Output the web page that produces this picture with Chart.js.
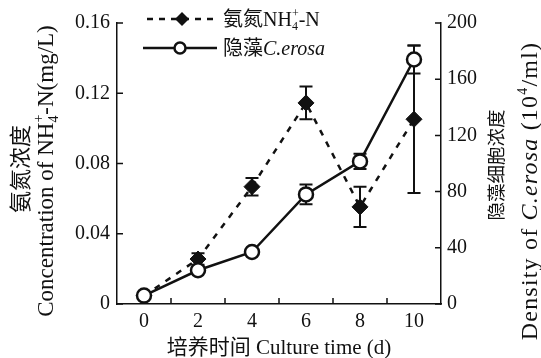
<!DOCTYPE html>
<html><head><meta charset="utf-8">
<script src="https://cdn.jsdelivr.net/npm/chart.js@4"></script>
<style>html,body{margin:0;padding:0;background:#fff}</style>
</head><body>
<canvas id="c" width="541" height="358"></canvas>
<script>
// data
const days = [0, 2, 4, 6, 8, 10];
const nh4 = [0.0046, 0.0256, 0.0668, 0.1145, 0.0553, 0.1052];
const nh4Err = [0, 0.0033, 0.005, 0.0093, 0.0115, 0.042];
const algae = [6, 24, 37, 78, 101.5, 174];
const algaeErr = [0, 2, 1, 7, 5.5, 10];
const xTickMarks = [1, 3, 5, 7, 9];
const leftTicks = [0, 0.04, 0.08, 0.12, 0.16];
const rightTicks = [0, 40, 80, 120, 160, 200];

const FONT = '"Liberation Serif","Noto Sans CJK SC",serif';
const INK = '#111';

function partFont(p, size){
    const s = (p.sub || p.sup) ? Math.round(size*0.6) : size;
    return (p.it ? 'italic ' : '') + s + 'px ' + FONT;
}
function partWidth(ctx, p, size){
    ctx.font = partFont(p, size);
    if (p.t !== undefined) return ctx.measureText(p.t).width;
    return Math.max(p.sub ? ctx.measureText(p.sub).width : 0, p.sup ? ctx.measureText(p.sup).width : 0);
}
// draws a run of text pieces, centred (or left aligned) on x
function drawRich(ctx, parts, x, cy, size, left){
    const ws = parts.map(p=>partWidth(ctx, p, size));
    const total = ws.reduce((a,b)=>a+b, 0);
    let px = left ? x : x - total/2;
    const base = cy + size*0.33;
    ctx.textAlign = 'left'; ctx.textBaseline = 'alphabetic'; ctx.fillStyle = INK;
    parts.forEach((p,i)=>{
        ctx.font = partFont(p, size);
        if (p.t !== undefined) ctx.fillText(p.t, px, base);
        if (p.sub) ctx.fillText(p.sub, px, base + size*0.22);
        if (p.sup) ctx.fillText(p.sup, px, base - size*0.42);
        px += ws[i];
    });
}

function diamond(ctx, x, y, r){
    ctx.beginPath();
    ctx.moveTo(x-r, y); ctx.lineTo(x, y-r); ctx.lineTo(x+r, y); ctx.lineTo(x, y+r);
    ctx.closePath(); ctx.fillStyle = INK; ctx.fill();
}
function circle(ctx, x, y, r){
    ctx.beginPath(); ctx.arc(x, y, r, 0, Math.PI*2);
    ctx.fillStyle = '#fff'; ctx.fill();
    ctx.lineWidth = 2.5; ctx.strokeStyle = INK; ctx.stroke();
}

const errorBars = {
    id: 'errorBars',
    beforeDatasetsDraw(chart){
        const ctx = chart.ctx, x = chart.scales.x;
        const sets = [[nh4, nh4Err, chart.scales.y], [algae, algaeErr, chart.scales.y1]];
        ctx.save();
        ctx.strokeStyle = INK; ctx.lineWidth = 2;
        sets.forEach(([vals, errs, sc])=>{
            days.forEach((d,i)=>{
                if (!errs[i]) return;
                const px = x.getPixelForValue(d);
                const top = sc.getPixelForValue(vals[i] + errs[i]);
                const bot = sc.getPixelForValue(vals[i] - errs[i]);
                ctx.beginPath();
                ctx.moveTo(px, top); ctx.lineTo(px, bot);
                ctx.moveTo(px-6.5, top); ctx.lineTo(px+6.5, top);
                ctx.moveTo(px-6.5, bot); ctx.lineTo(px+6.5, bot);
                ctx.stroke();
            });
        });
        ctx.restore();
    }
};

const decor = {
    id: 'decor',
    afterDraw(chart){
        const ctx = chart.ctx, a = chart.chartArea;
        const {x, y, y1} = chart.scales;
        ctx.save();
        // inward tick marks
        ctx.strokeStyle = INK; ctx.lineWidth = 1.5;
        ctx.beginPath();
        xTickMarks.forEach(v=>{ const p = x.getPixelForValue(v); ctx.moveTo(p, a.bottom); ctx.lineTo(p, a.bottom-6); });
        leftTicks.forEach(v=>{ const p = y.getPixelForValue(v); ctx.moveTo(a.left, p); ctx.lineTo(a.left+6, p); });
        rightTicks.forEach(v=>{ const p = y1.getPixelForValue(v); ctx.moveTo(a.right, p); ctx.lineTo(a.right-6, p); });
        ctx.stroke();

        // axis titles
        drawRich(ctx, [{t:'培养时间 Culture time (d)'}], 279, 347, 21);
        ctx.save(); ctx.translate(21, 169); ctx.rotate(-Math.PI/2);
        drawRich(ctx, [{t:'氨氮浓度'}], 0, 0, 22);
        ctx.restore();
        ctx.save(); ctx.translate(45, 171); ctx.rotate(-Math.PI/2);
        drawRich(ctx, [{t:'Concentration of NH'}, {sub:'4', sup:'+'}, {t:'-N(mg/L)'}], 0, 0, 23);
        ctx.restore();
        ctx.save(); ctx.translate(497, 165); ctx.rotate(-Math.PI/2);
        drawRich(ctx, [{t:'隐藻细胞浓度'}], 0, 0, 18.5);
        ctx.restore();
        ctx.save(); ctx.translate(529, 191); ctx.rotate(-Math.PI/2);
        ctx.letterSpacing = '1.2px';
        drawRich(ctx, [{t:'Density of '}, {t:'C.erosa', it:true}, {t:' (10'}, {sup:'4'}, {t:'/ml)'}], 0, 0, 24);
        ctx.restore();

        // legend
        ctx.lineWidth = 2.5; ctx.strokeStyle = INK;
        ctx.setLineDash([6, 6]);
        ctx.beginPath(); ctx.moveTo(147, 19); ctx.lineTo(213, 19); ctx.stroke();
        ctx.setLineDash([]);
        diamond(ctx, 182, 19, 7);
        ctx.beginPath(); ctx.moveTo(143, 48); ctx.lineTo(217, 48); ctx.stroke();
        circle(ctx, 180, 48, 5.5);
        drawRich(ctx, [{t:'氨氮NH'}, {sub:'4', sup:'+'}, {t:'-N'}], 223, 19, 20, true);
        drawRich(ctx, [{t:'隐藻'}, {t:'C.erosa', it:true}], 223, 48, 20, true);
        ctx.restore();
    }
};

const tickFont = {family: FONT, size: 20};

new Chart(document.getElementById('c'), {
    type: 'line',
    data: {
        datasets: [
            {
                label: '隐藻C.erosa', yAxisID: 'y1', order: 0,
                data: days.map((d,i)=>({x:d, y:algae[i]})),
                borderColor: INK, borderWidth: 2.5,
                pointStyle: 'circle', pointRadius: 7, pointBackgroundColor: '#fff',
                pointBorderColor: INK, pointBorderWidth: 2.5, tension: 0
            },
            {
                label: '氨氮NH4+-N', yAxisID: 'y', order: 1,
                data: days.map((d,i)=>({x:d, y:nh4[i]})),
                borderColor: INK, borderWidth: 2.5, borderDash: [6, 7],
                pointStyle: 'rectRot', pointRadius: 8, pointBackgroundColor: INK,
                pointBorderColor: INK, pointBorderWidth: 1, tension: 0
            }
        ]
    },
    options: {
        responsive: false, animation: false,
        layout: {padding: {top: 23, left: 0, right: 0, bottom: 0}},
        plugins: {legend: {display: false}, tooltip: {enabled: false}},
        scales: {
            x: {
                type: 'linear', min: -1, max: 11,
                afterBuildTicks: s=>{ s.ticks = days.map(v=>({value:v})); },
                afterFit: s=>{ s.height = 54; },
                grid: {display: false, drawTicks: false},
                border: {display: true, color: INK, width: 1.5},
                ticks: {font: tickFont, color: INK, padding: 6, maxRotation: 0, callback: v=>String(v)}
            },
            y: {
                position: 'left', min: 0, max: 0.16,
                afterBuildTicks: s=>{ s.ticks = leftTicks.map(v=>({value:v})); },
                afterFit: s=>{ s.width = 117; },
                grid: {display: false, drawTicks: false},
                border: {display: true, color: INK, width: 1.5},
                ticks: {font: tickFont, color: INK, padding: 7, callback: v=> v===0 ? '0' : v.toFixed(2)}
            },
            y1: {
                position: 'right', min: 0, max: 200,
                afterBuildTicks: s=>{ s.ticks = rightTicks.map(v=>({value:v})); },
                afterFit: s=>{ s.width = 100; },
                grid: {display: false, drawTicks: false},
                border: {display: true, color: INK, width: 1.5},
                ticks: {font: tickFont, color: INK, padding: 6, callback: v=>String(v)}
            }
        }
    },
    plugins: [errorBars, decor]
});
</script>
</body></html>
